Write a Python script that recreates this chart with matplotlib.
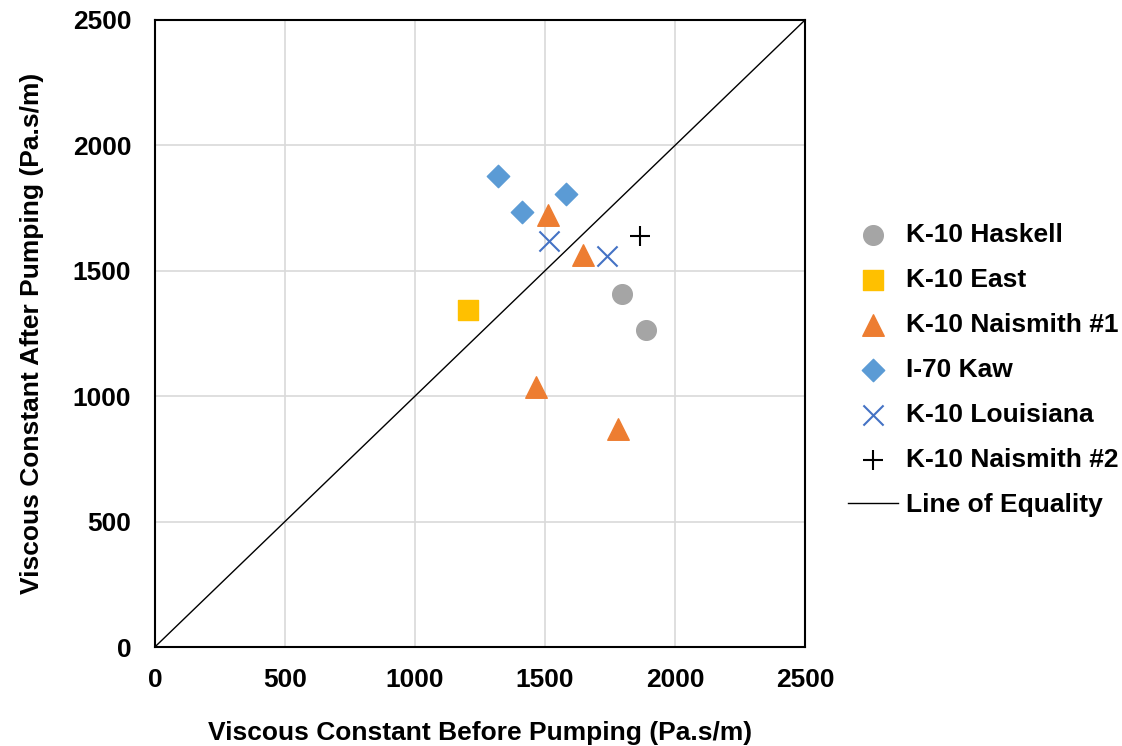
import numpy as np
import matplotlib
matplotlib.use("Agg")
import matplotlib.pyplot as plt

plt.rcParams['font.family'] = ['Liberation Sans', 'DejaVu Sans']
plt.rcParams['font.weight'] = 'bold'

# %% data
haskell_x = [1797, 1888]
haskell_y = [1409, 1263]
east_x = [1205]
east_y = [1344]
naismith1_x = [1510, 1647, 1467, 1780]
naismith1_y = [1722, 1563, 1035, 868]
kaw_x = [1318, 1413, 1582]
kaw_y = [1879, 1734, 1807]
louisiana_x = [1514, 1737]
louisiana_y = [1620, 1559]
naismith2_x = [1865]
naismith2_y = [1638]
equality = [0, 2500]
ticks = [0, 500, 1000, 1500, 2000, 2500]

# %% figure
fig = plt.figure(figsize=(11.22, 7.46), dpi=100)
ax = fig.add_axes([0.138, 0.1327, 0.5795, 0.8405])

ax.scatter(haskell_x, haskell_y, marker='o', s=200, color='#A5A5A5', label='K-10 Haskell', zorder=3)
ax.scatter(east_x, east_y, marker='s', s=200, color='#FFC000', label='K-10 East', zorder=3)
ax.scatter(naismith1_x, naismith1_y, marker='^', s=240, color='#ED7D31', label='K-10 Naismith #1', zorder=3)
ax.scatter(kaw_x, kaw_y, marker='D', s=130, color='#5B9BD5', label='I-70 Kaw', zorder=3)
ax.scatter(louisiana_x, louisiana_y, marker='x', s=210, color='#4472C4', linewidths=1.5,
           label='K-10 Louisiana', zorder=3)
ax.scatter(naismith2_x, naismith2_y, marker='+', s=200, color='black', linewidths=1.5,
           label='K-10 Naismith #2', zorder=3)
ax.plot(equality, equality, color='black', lw=1, label='Line of Equality', zorder=2)

ax.set_xlim(0, 2500)
ax.set_ylim(0, 2500)
ax.set_xticks(ticks)
ax.set_yticks(ticks)
ax.grid(True, color='#D9D9D9', lw=1.2)
ax.set_axisbelow(True)
for sp in ax.spines.values():
    sp.set_color('black')
    sp.set_linewidth(1.5)
ax.tick_params(axis='y', length=0, labelsize=19, pad=17)
ax.tick_params(axis='x', length=0, labelsize=19, pad=15)
for lab in ax.get_xticklabels() + ax.get_yticklabels():
    lab.set_fontweight('bold')

ax.set_xlabel('Viscous Constant Before Pumping (Pa.s/m)', fontsize=19, fontweight='bold', labelpad=21)
ax.set_ylabel('Viscous Constant After Pumping (Pa.s/m)', fontsize=19, fontweight='bold', labelpad=21)

leg = ax.legend(loc='center left', bbox_to_anchor=(1.03, 0.442), frameon=False,
                prop={'size': 19, 'weight': 'bold'}, labelspacing=0.8,
                handlelength=1.9, handletextpad=0.3, scatterpoints=1)

fig.savefig('out.png', dpi=100)
